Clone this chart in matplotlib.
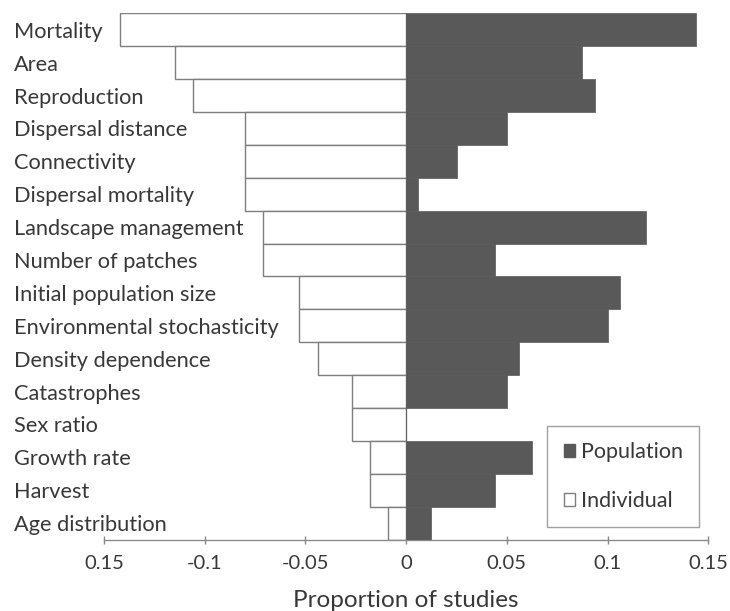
import matplotlib
matplotlib.use("Agg")
import matplotlib.pyplot as plt
from matplotlib.patches import Patch

plt.rcParams['font.family'] = ['Lato', 'DejaVu Sans']

# Model parameters, listed top to bottom
parameters = [
    "Mortality", "Area", "Reproduction", "Dispersal distance", "Connectivity",
    "Dispersal mortality", "Landscape management", "Number of patches",
    "Initial population size", "Environmental stochasticity",
    "Density dependence", "Catastrophes", "Sex ratio", "Growth rate",
    "Harvest", "Age distribution",
]

# Proportion of studies varying each parameter
population = [0.144, 0.0875, 0.094, 0.050, 0.025, 0.006, 0.119, 0.044,
              0.106, 0.100, 0.056, 0.050, 0.0, 0.0625, 0.044, 0.0125]
individual = [0.142, 0.115, 0.106, 0.080, 0.080, 0.080, 0.071, 0.071,
              0.053, 0.053, 0.044, 0.027, 0.027, 0.018, 0.018, 0.009]

x_ticks = [-0.15, -0.1, -0.05, 0, 0.05, 0.1, 0.15]
x_tick_labels = ["0.15", "-0.1", "-0.05", "0", "0.05", "0.1", "0.15"]

text_color = "#383838"
axis_color = "#8a8a8a"
dark_bar = "#595959"

fig = plt.figure(figsize=(7.3, 6.11), dpi=100)
ax = fig.add_axes([104 / 730, 71.5 / 611, 604.3 / 730, 526.2 / 611])

ypos = list(range(len(parameters)))
ax.barh(ypos, [-v for v in individual], height=1.0, color="white",
        edgecolor="#7f7f7f", linewidth=1.0, zorder=2)
ax.barh(ypos, population, height=1.0, color=dark_bar,
        edgecolor=dark_bar, linewidth=0.5, zorder=3)

ax.set_xlim(-0.15, 0.15)
ax.set_ylim(len(parameters) - 0.5, -0.5)

ax.set_yticks(ypos)
ax.set_yticklabels(parameters, fontsize=15.7, color=text_color)
for lab in ax.get_yticklabels():
    lab.set_horizontalalignment("left")
ax.tick_params(axis="y", length=0, pad=90 * 72 / 100)

ax.set_xticks(x_ticks)
ax.set_xticklabels(x_tick_labels, fontsize=14.5, color=text_color)
ax.tick_params(axis="x", direction="inout", length=6, width=1,
               color=axis_color, pad=8)

for side in ("left", "right", "top"):
    ax.spines[side].set_visible(False)
ax.spines["bottom"].set_color(axis_color)
ax.spines["bottom"].set_linewidth(1.0)

ax.set_xlabel("Proportion of studies", fontsize=17.5, color=text_color,
              labelpad=13)

handles = [
    Patch(facecolor=dark_bar, edgecolor=dark_bar, label="Population"),
    Patch(facecolor="white", edgecolor="#7f7f7f", label="Individual"),
]
leg = ax.legend(handles=handles, loc="lower right",
                bbox_to_anchor=(699 / 730, 84 / 611, 0, 0),
                bbox_transform=fig.transFigure,
                frameon=True, fancybox=False, fontsize=15.5,
                handlelength=0.55, handleheight=0.55, handletextpad=0.25,
                labelspacing=1.35, borderpad=0.75, borderaxespad=0)
leg.get_frame().set_edgecolor("#8a8a8a")
leg.get_frame().set_linewidth(1.0)
for t in leg.get_texts():
    t.set_color(text_color)

fig.savefig("out.png", dpi=100)
